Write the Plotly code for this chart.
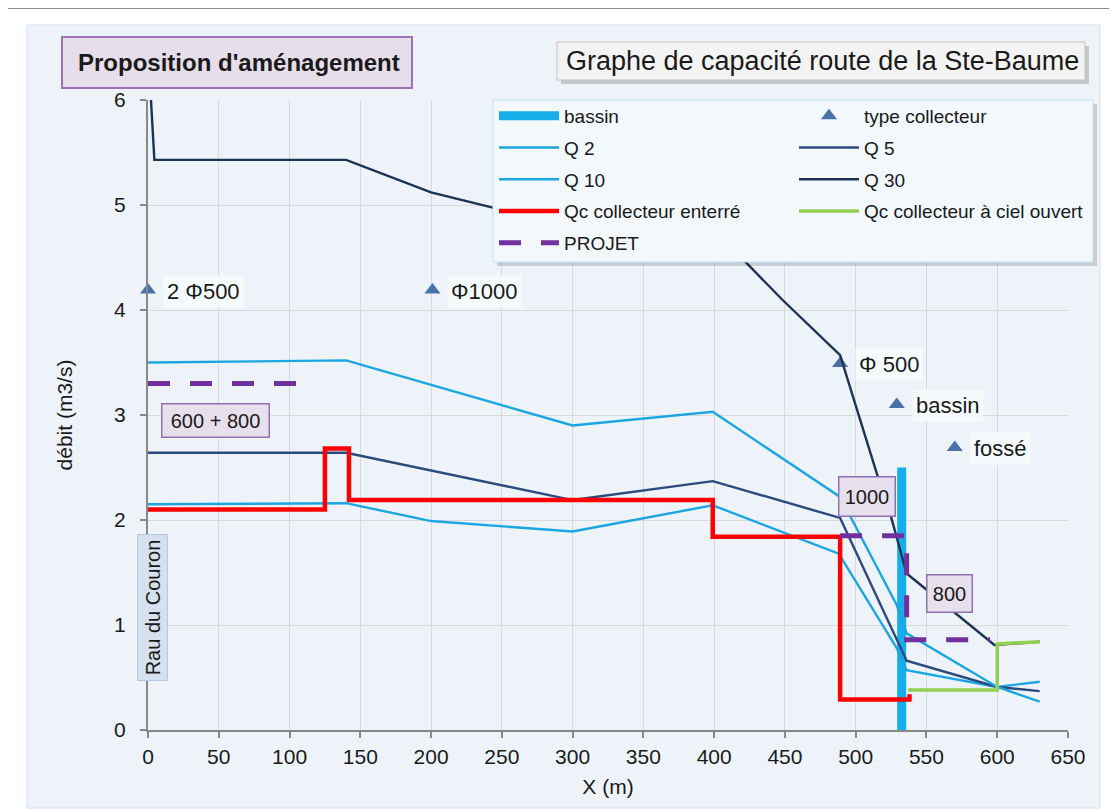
import plotly.graph_objects as go

# ---------------- data ----------------
bassin_x = [532.5, 532.5]
bassin_y = [0.0, 2.5]

coll_x = [0, 201, 489, 529, 570]
coll_y = [4.19, 4.19, 3.49, 3.10, 2.69]
coll_labels = ["2 Φ500", "Φ1000", "Φ 500", "bassin", "fossé"]

q2_x = [0, 140, 200, 300, 399, 488, 529, 536, 600, 630]
q2_y = [2.15, 2.16, 1.99, 1.89, 2.14, 1.68, 0.78, 0.57, 0.41, 0.46]

q5_x = [0, 140, 300, 399, 489, 536, 600, 630]
q5_y = [2.64, 2.64, 2.19, 2.37, 2.02, 0.66, 0.41, 0.37]

q10_x = [0, 140, 300, 399, 489, 529, 536, 600, 630]
q10_y = [3.50, 3.52, 2.90, 3.03, 2.22, 1.19, 0.92, 0.41, 0.27]

q30_x = [0, 4.5, 140, 200, 245, 300, 400, 422, 448, 489, 515, 525, 536, 598, 630]
q30_y = [6.5, 5.43, 5.43, 5.12, 4.97, 4.85, 4.60, 4.46, 4.10, 3.57, 2.44, 2.03, 1.49, 0.81, 0.84]

qc_ent_x = [0, 125, 125, 142, 142, 399, 399, 489, 489, 538, 538]
qc_ent_y = [2.10, 2.10, 2.68, 2.68, 2.19, 2.19, 1.84, 1.84, 0.29, 0.29, 0.34]

qc_ciel_x = [537, 600, 600, 630]
qc_ciel_y = [0.38, 0.38, 0.82, 0.84]

projet_x = [0, 111, None, 489, 536, 536, 595]
projet_y = [3.30, 3.30, None, 1.85, 1.85, 0.86, 0.86]

x_ticks = list(range(0, 651, 50))
y_ticks = [0, 1, 2, 3, 4, 5, 6]

# ---------------- geometry helpers ----------------
OFF = 8                      # page body margin
W, H = 1117 - OFF, 812 - OFF
L, T = 148 - OFF, 100 - OFF
PW, PH = 920, 630
R = W - L - PW
B = H - T - PH
FONT = "Liberation Sans, Arial, sans-serif"


def px(x):
    """page pixel x -> paper x"""
    return (x - OFF - L) / PW


def py(y):
    """page pixel y -> paper y"""
    return (T + PH - (y - OFF)) / PH


def rect(x0, y0, x1, y1, fill=None, line=None, lw=1, layer="above"):
    return dict(type="rect", xref="paper", yref="paper",
                x0=px(x0), x1=px(x1), y0=py(y1), y1=py(y0),
                fillcolor=fill if fill else "rgba(0,0,0,0)",
                line=dict(color=line if line else "rgba(0,0,0,0)", width=lw if line else 0),
                layer=layer)


fig = go.Figure()

C_LIGHT = "#1BA6E2"


def add(name, x, y, legend, **kw):
    fig.add_trace(go.Scatter(x=x, y=y, name=name, legend=legend, legendgroup=name, **kw))


add("bassin", bassin_x, bassin_y, "legend", mode="lines",
    line=dict(color="#15AEEA", width=9))
add("type collecteur", coll_x, coll_y, "legend2", mode="markers",
    marker=dict(symbol="triangle-up", size=14, color="#4A70AC"), cliponaxis=False)
add("Q 2", q2_x, q2_y, "legend", mode="lines", line=dict(color=C_LIGHT, width=2.4))
add("Q 5", q5_x, q5_y, "legend2", mode="lines", line=dict(color="#2C4A7E", width=2.4))
add("Q 10", q10_x, q10_y, "legend", mode="lines", line=dict(color=C_LIGHT, width=2.4))
add("Q 30", q30_x, q30_y, "legend2", mode="lines", line=dict(color="#1C3356", width=2.4))
add("Qc collecteur enterré", qc_ent_x, qc_ent_y, "legend", mode="lines",
    line=dict(color="#FF0000", width=4.5))
add("Qc collecteur à ciel ouvert", qc_ciel_x, qc_ciel_y, "legend2", mode="lines",
    line=dict(color="#92D050", width=3.5))
add("PROJET", projet_x, projet_y, "legend", mode="lines",
    line=dict(color="#7030A0", width=5, dash="22px,20px"), connectgaps=False)

shapes = [
    rect(4, 8, 1130, 830, fill=None, line="#666666", lw=1.5, layer="below"),
    rect(27, 25, 1100, 808, fill="#EEF3F9", line="#D3E1EC", lw=1, layer="below"),
    rect(62, 37, 412, 88, fill="#E6DEEB", line="#9B72B8", lw=2, layer="above"),
    rect(561, 46, 1089, 84, fill="rgba(0,0,0,0.18)", layer="above"),
    rect(557, 42, 1085, 80, fill="#F3F3F3", line="#C4C4C4", lw=1, layer="above"),
    rect(497, 104, 1097, 266, fill="rgba(0,0,0,0.15)", layer="above"),
    rect(493, 100, 1093, 262, fill="#F3F8FC", line="#BEE2F1", lw=1, layer="above"),
]

annotations = [
    dict(xref="paper", yref="paper", x=px(239), y=py(63), text="<b>Proposition d'aménagement</b>",
         showarrow=False, xanchor="center", yanchor="middle",
         font=dict(family=FONT, size=24, color="#1A1A1A")),
    dict(xref="paper", yref="paper", x=px(822), y=py(61), text="Graphe de capacité route de la Ste-Baume",
         showarrow=False, xanchor="center", yanchor="middle",
         font=dict(family=FONT, size=27, color="#1A1A1A")),
    dict(xref="paper", yref="paper", x=px(215), y=py(420), text="600 + 800", showarrow=False,
         xanchor="center", yanchor="middle", width=104, height=30, bgcolor="#E6DFEC",
         bordercolor="#9070B2", borderwidth=1.5, borderpad=1,
         font=dict(family=FONT, size=20, color="#1A1A1A")),
    dict(xref="paper", yref="paper", x=px(867), y=py(496), text="1000", showarrow=False,
         xanchor="center", yanchor="middle", width=53, height=36, bgcolor="#E6DFEC",
         bordercolor="#9070B2", borderwidth=1.5, borderpad=1,
         font=dict(family=FONT, size=20, color="#1A1A1A")),
    dict(xref="paper", yref="paper", x=px(949), y=py(593), text="800", showarrow=False,
         xanchor="center", yanchor="middle", width=42, height=34, bgcolor="#E6DFEC",
         bordercolor="#9070B2", borderwidth=1.5, borderpad=1,
         font=dict(family=FONT, size=20, color="#1A1A1A")),
    dict(xref="paper", yref="paper", x=px(152), y=py(608), text="Rau du Couron", showarrow=False,
         xanchor="center", yanchor="middle", textangle=-90, width=143, height=27,
         bgcolor="#D6E0EE", bordercolor="#B5C8E2", borderwidth=1, borderpad=1,
         font=dict(family=FONT, size=20, color="#1A1A1A")),
]

for xv, yv, lab in zip(coll_x, coll_y, coll_labels):
    annotations.append(dict(xref="x", yref="y", x=xv, y=yv, text=lab, showarrow=False,
                            xanchor="left", yanchor="middle", xshift=15, yshift=-1,
                            bgcolor="#F5FBFD", borderpad=3,
                            font=dict(family=FONT, size=22, color="#1A1A1A")))

axis_common = dict(showgrid=True, gridcolor="#D9D9D9", gridwidth=1,
                   showline=True, linecolor="#888888", linewidth=2,
                   ticks="outside", ticklen=6, tickcolor="#888888", tickwidth=1.5,
                   zeroline=False, tickfont=dict(family=FONT, size=21, color="#1A1A1A"))

legend_common = dict(xanchor="left", yanchor="top", bgcolor="rgba(0,0,0,0)", borderwidth=0,
                     itemwidth=60, tracegroupgap=4, traceorder="grouped",
                     font=dict(family=FONT, size=19, color="#1A1A1A"))

fig.update_layout(
    width=W, height=H,
    margin=dict(l=L, r=R, t=T, b=B, pad=0),
    paper_bgcolor="#FFFFFF",
    plot_bgcolor="#EEF3F9",
    font=dict(family=FONT, color="#1A1A1A"),
    xaxis=dict(range=[0, 650], tickvals=x_ticks, ticklabelstandoff=1,
               title=dict(text="X (m)", font=dict(family=FONT, size=21, color="#1A1A1A"), standoff=12),
               **axis_common),
    yaxis=dict(range=[0, 6], tickvals=y_ticks, ticklabelstandoff=10,
               title=dict(text="débit (m3/s)", font=dict(family=FONT, size=21, color="#1A1A1A"), standoff=36),
               **axis_common),
    showlegend=True,
    legend=dict(x=px(494), y=py(97), **legend_common),
    legend2=dict(x=px(794), y=py(97), **legend_common),
    shapes=shapes,
    annotations=annotations,
)

fig.write_html("out.html")
